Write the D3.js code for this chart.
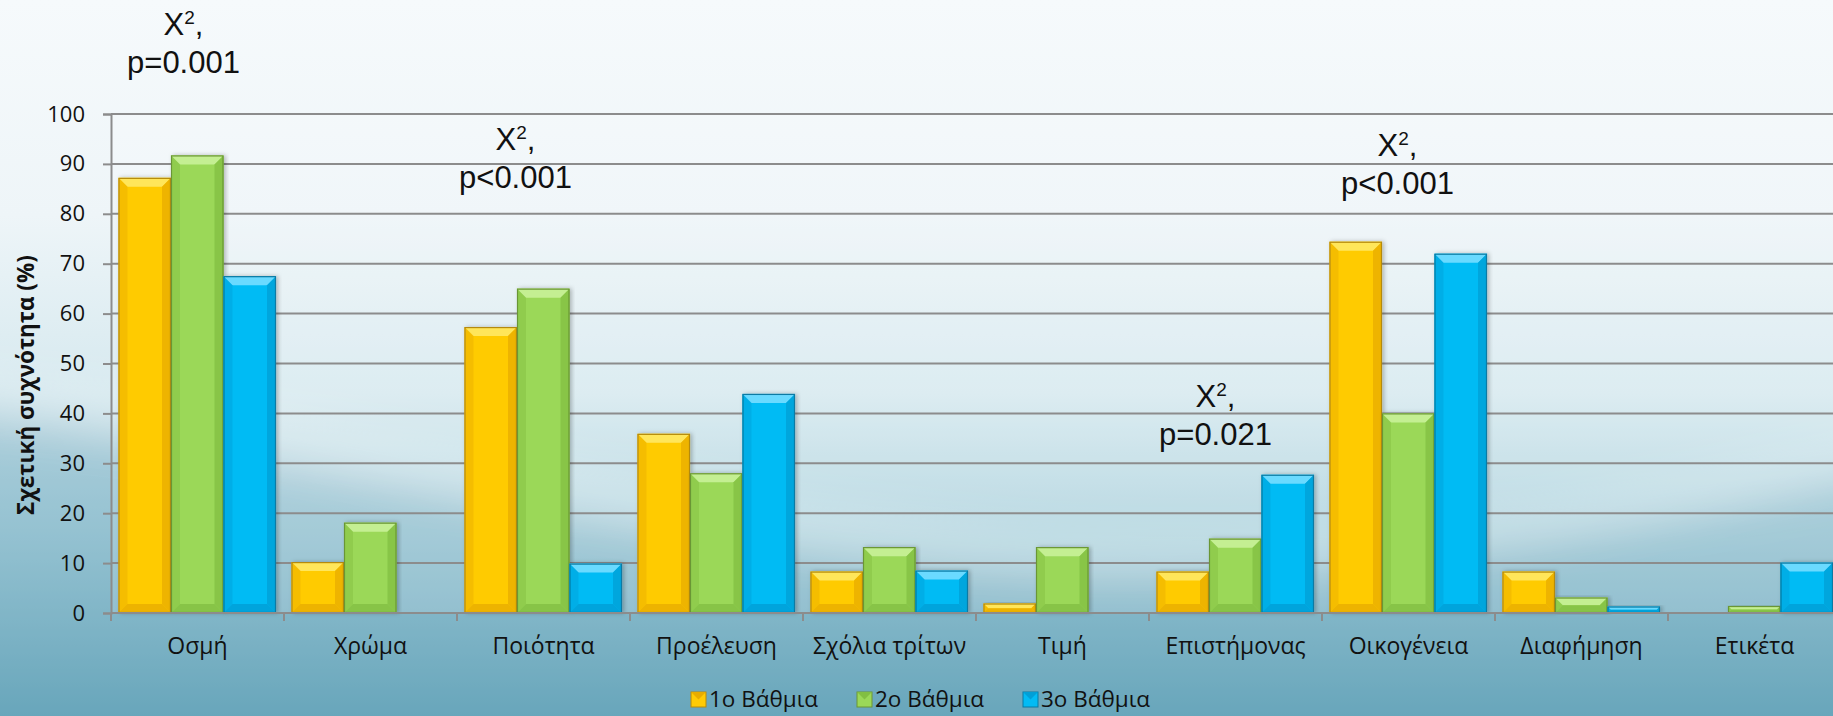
<!DOCTYPE html>
<html>
<head>
<meta charset="utf-8">
<script src="https://cdn.jsdelivr.net/npm/d3@7"></script>
<style>
  html, body { margin: 0; padding: 0; overflow: hidden; }
  body { width: 1833px; height: 716px; }
  text { font-family: "Open Sans", "Noto Sans", sans-serif; fill: #111; }
  .note { font-family: "Liberation Sans", Arial, sans-serif; font-size: 31px; }
</style>
</head>
<body>
<svg id="chart"></svg>
<script>
// data
const categories = ["Οσμή", "Χρώμα", "Ποιότητα", "Προέλευση", "Σχόλια τρίτων",
    "Τιμή", "Επιστήμονας", "Οικογένεια", "Διαφήμηση", "Ετικέτα"];
const seriesNames = ["1ο Βάθμια", "2ο Βάθμια", "3ο Βάθμια"];
const primary = [87.2, 10.2, 57.3, 35.9, 8.3, 1.9, 8.3, 74.4, 8.3, 0];
const secondary = [91.7, 18.1, 65.0, 28.0, 13.2, 13.2, 14.9, 40.0, 3.1, 1.4];
const tertiary = [67.5, 0, 9.9, 43.9, 8.5, 0, 27.7, 72.0, 1.3, 10.1];
const yTicks = [0, 10, 20, 30, 40, 50, 60, 70, 80, 90, 100];

// statistical notes: category, p-value text, height (in % units) of the p line
const noteCats = ["Οσμή", "Ποιότητα", "Επιστήμονας", "Οικογένεια"];
const noteP = ["p=0.001", "p<0.001", "p=0.021", "p<0.001"];
const noteLevel = [108.2, 85.2, 33.7, 84.0];
const noteShift = [-14, -28, -20, -11];

const W = 1833, H = 716;
const dim = { left: 111, top: 114, bottom: 613, right: 1841 };

const colors = [
    { base: "#ffcb05", light: "#ffe65a", dark: "#e8ac00", edge: "#b58a0c" },
    { base: "#9bd858", light: "#c4ef92", dark: "#82bf42", edge: "#6a9634" },
    { base: "#03bbf4", light: "#6bdaff", dark: "#029fd6", edge: "#0a7aa3" }
];

const svg = d3.select("#chart").attr("width", W).attr("height", H);
const defs = svg.append("defs");

// background
const bg = defs.append("linearGradient").attr("id", "bg")
    .attr("x1", 0).attr("y1", 0).attr("x2", 0).attr("y2", 1);
bg.append("stop").attr("offset", "0%").attr("stop-color", "#f6fafc");
bg.append("stop").attr("offset", "30%").attr("stop-color", "#eef5f8");
bg.append("stop").attr("offset", "55%").attr("stop-color", "#d6e9ef");
bg.append("stop").attr("offset", "75%").attr("stop-color", "#acd2dd");
bg.append("stop").attr("offset", "100%").attr("stop-color", "#6eabbe");
svg.append("rect").attr("width", W).attr("height", H).attr("fill", "url(#bg)");

defs.append("filter").attr("id", "blur").append("feGaussianBlur").attr("stdDeviation", 20);
const swoosh = svg.append("g").attr("filter", "url(#blur)");
swoosh.append("path")
    .attr("d", "M-60,400 C200,430 500,520 900,560 C1200,590 1500,560 1900,470 L1900,760 L-60,760 Z")
    .attr("fill", "#5d9db3").attr("opacity", 0.3);
swoosh.append("path")
    .attr("d", "M-60,370 C250,390 600,480 1000,525 C1300,555 1600,505 1900,425 L1900,450 C1600,540 1300,590 1000,570 C600,530 250,440 -60,420 Z")
    .attr("fill", "#ffffff").attr("opacity", 0.2);

// plot area wash
svg.append("rect")
    .attr("x", dim.left).attr("y", dim.top)
    .attr("width", dim.right - dim.left).attr("height", dim.bottom - dim.top)
    .attr("fill", "#ffffff").attr("opacity", 0.15);

const x0 = d3.scaleBand().domain(categories).range([dim.left, dim.right]).padding(0);
const x1 = d3.scaleBand().domain(seriesNames).range([7.5, x0.bandwidth() - 8]).padding(0);
const y = d3.scaleLinear().domain([0, 100]).range([dim.bottom, dim.top]);

// grid
svg.append("g")
    .selectAll("line").data(yTicks.slice(1)).join("line")
    .attr("x1", dim.left).attr("x2", dim.right)
    .attr("y1", d => y(d)).attr("y2", d => y(d))
    .attr("stroke", "#8c8c8c").attr("stroke-width", 2);

// y axis
const yAxis = d3.axisLeft(y).tickValues(yTicks).tickSize(8).tickPadding(18);
const gy = svg.append("g").attr("transform", "translate(" + dim.left + ",0)").call(yAxis);
gy.select(".domain").attr("stroke", "#8c8c8c").attr("stroke-width", 2);
gy.selectAll(".tick line").attr("stroke", "#8c8c8c").attr("stroke-width", 2);
gy.selectAll(".tick text").attr("font-size", 22).attr("fill", "#111")
    .attr("font-family", "Open Sans, sans-serif");

svg.append("text")
    .attr("transform", "translate(34,385) rotate(-90)")
    .attr("text-anchor", "middle")
    .attr("font-size", 22.5).attr("font-weight", "bold")
    .text("Σχετική συχνότητα (%)");

// bars
const rows = categories.map((c, i) => ({ cat: c, vals: [primary[i], secondary[i], tertiary[i]] }));

defs.append("filter").attr("id", "shadow")
    .append("feDropShadow").attr("dx", 2).attr("dy", 0).attr("stdDeviation", 2)
    .attr("flood-color", "#000").attr("flood-opacity", 0.25);

const groups = svg.append("g").selectAll("g").data(rows).join("g")
    .attr("transform", d => "translate(" + x0(d.cat) + ",0)");

const bars = groups.selectAll("g").data(d => d.vals.map((v, k) => ({ v: v, k: k })))
    .join("g").filter(d => d.v > 0)
    .attr("filter", "url(#shadow)");

bars.each(function(d) {
    const g = d3.select(this);
    const c = colors[d.k];
    const xa = x1(seriesNames[d.k]), xb = xa + x1.bandwidth();
    const ya = y(d.v), yb = y(0);
    const b = Math.min(9, (yb - ya) / 2, (xb - xa) / 2);
    g.append("rect").attr("x", xa).attr("y", ya).attr("width", xb - xa).attr("height", yb - ya)
        .attr("fill", c.base);
    // top bevel
    g.append("polygon").attr("points", [[xa, ya], [xb, ya], [xb - b, ya + b], [xa + b, ya + b]].join(" "))
        .attr("fill", c.light);
    // sides
    g.append("polygon").attr("points", [[xa, ya], [xa + b, ya + b], [xa + b, yb - b], [xa, yb]].join(" "))
        .attr("fill", c.dark).attr("opacity", 0.45);
    g.append("polygon").attr("points", [[xb, ya], [xb - b, ya + b], [xb - b, yb - b], [xb, yb]].join(" "))
        .attr("fill", c.dark).attr("opacity", 0.75);
    g.append("polygon").attr("points", [[xa, yb], [xa + b, yb - b], [xb - b, yb - b], [xb, yb]].join(" "))
        .attr("fill", c.dark).attr("opacity", 0.8);
    g.append("rect").attr("x", xa + 0.5).attr("y", ya + 0.5)
        .attr("width", xb - xa - 1).attr("height", Math.max(0, yb - ya - 1))
        .attr("fill", "none").attr("stroke", c.edge).attr("stroke-width", 1.2);
});

// x axis
const gx = svg.append("g").attr("transform", "translate(0," + dim.bottom + ")");
gx.append("line").attr("x1", dim.left).attr("x2", dim.right)
    .attr("stroke", "#8c8c8c").attr("stroke-width", 2);
gx.selectAll("line.sep").data(categories.concat(["end"])).join("line").attr("class", "sep")
    .attr("x1", (d, i) => i < categories.length ? x0(d) : dim.right)
    .attr("x2", (d, i) => i < categories.length ? x0(d) : dim.right)
    .attr("y1", 0).attr("y2", 8)
    .attr("stroke", "#8c8c8c").attr("stroke-width", 2);
const xAxis = d3.axisBottom(x0).tickSize(0).tickPadding(25);
const gxl = svg.append("g").attr("transform", "translate(0," + dim.bottom + ")").call(xAxis);
gxl.select(".domain").remove();
gxl.selectAll(".tick text").attr("font-size", 23).attr("fill", "#111")
    .attr("font-family", "Open Sans, sans-serif");

// notes
noteCats.forEach((c, i) => {
    const cx = x0(c) + x0.bandwidth() / 2 + noteShift[i];
    const t = svg.append("text").attr("class", "note").attr("text-anchor", "middle")
        .attr("x", cx).attr("y", y(noteLevel[i]) - 38);
    t.append("tspan").text("X");
    t.append("tspan").attr("font-size", 19).attr("dy", -11).text("2");
    t.append("tspan").attr("dy", 11).text(",");
    svg.append("text").attr("class", "note").attr("text-anchor", "middle")
        .attr("x", cx).attr("y", y(noteLevel[i])).text(noteP[i]);
});

// legend
const legend = svg.append("g").attr("transform", "translate(691,692)");
const items = legend.selectAll("g").data(seriesNames).join("g")
    .attr("transform", (d, i) => "translate(" + (i * 166) + ",0)");
items.append("rect").attr("width", 15).attr("height", 15)
    .attr("fill", (d, i) => colors[i].base).attr("stroke", (d, i) => colors[i].edge);
items.append("polygon").attr("points", "0,0 15,0 7.5,7.5")
    .attr("fill", (d, i) => colors[i].dark);
items.append("text").attr("x", 18).attr("y", 15)
    .attr("font-size", 22.5).text(d => d);
</script>
</body>
</html>
